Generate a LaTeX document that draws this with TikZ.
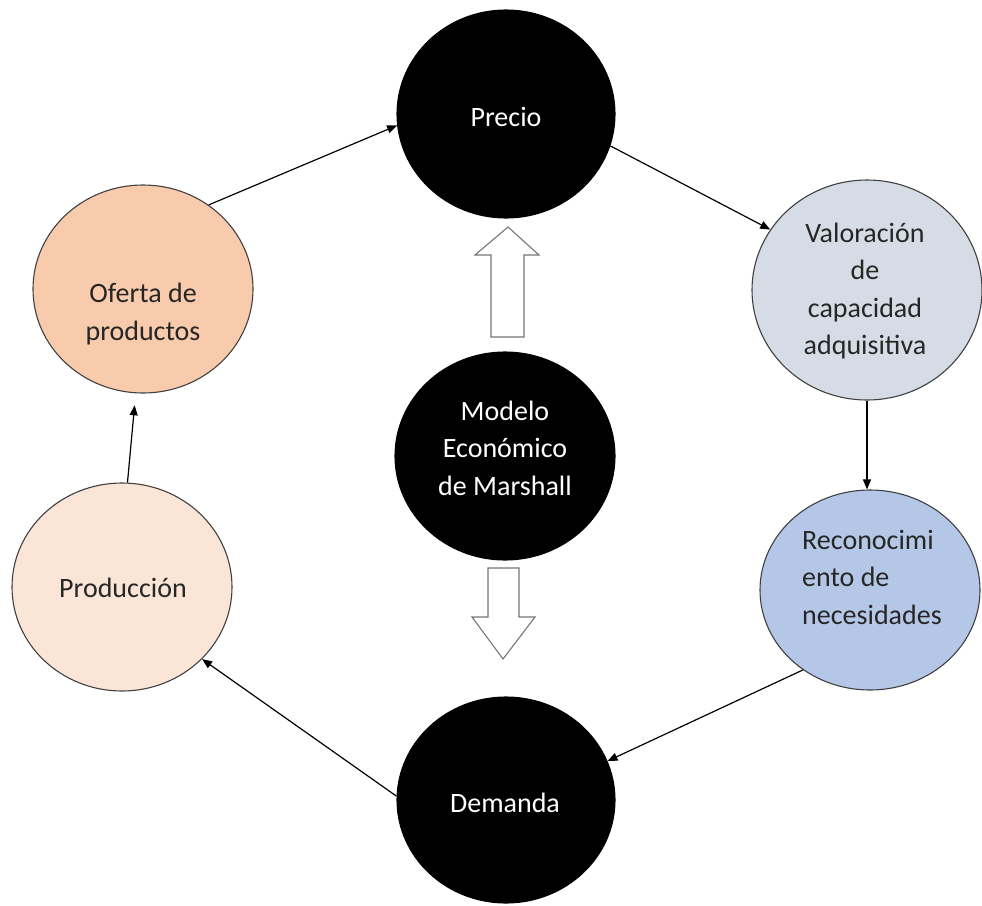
\documentclass[tikz,border=0pt]{standalone}
\usepackage{fontspec}
\setmainfont{Carlito}
\usetikzlibrary{shapes.geometric,arrows.meta}
\definecolor{ofertac}{HTML}{F8CBAD}
\definecolor{prodc}{HTML}{FBE5D6}
\definecolor{valorc}{HTML}{D6DCE5}
\definecolor{reconc}{HTML}{B4C7E7}
\definecolor{outl}{HTML}{404040}
\definecolor{txt}{HTML}{262626}
\definecolor{blockc}{HTML}{767676}
\begin{document}
\begin{tikzpicture}[x=1pt,y=-1pt,
 bubble/.style={ellipse, inner sep=0pt, draw=outl, line width=1.1pt},
 dark/.style={bubble, fill=black, draw=black},
 lbl/.style={font=\fontsize{28}{37.5}\selectfont, align=center, inner sep=0pt, text=txt},
 wlbl/.style={lbl, text=white},
 conn/.style={draw=black, line width=1.2pt, -{Triangle[length=10pt,width=8pt]}},
 block/.style={draw=blockc, line width=1.1pt, fill=white, line join=miter}]
\useasboundingbox (0,0) rectangle (982,905);
% circles
\node[dark, minimum width=218pt, minimum height=208pt] (precio) at (506,114) {};
\node[bubble, fill=ofertac, minimum width=220pt, minimum height=208pt] (oferta) at (143,289) {};
\node[bubble, fill=valorc, minimum width=230pt, minimum height=220pt] (valor) at (867,290) {};
\node[dark, minimum width=220pt, minimum height=208pt] (modelo) at (505,456) {};
\node[bubble, fill=prodc, minimum width=220pt, minimum height=208pt] (prod) at (122,587) {};
\node[bubble, fill=reconc, minimum width=220pt, minimum height=200pt] (recon) at (870,590) {};
\node[dark, minimum width=218pt, minimum height=206pt] (demanda) at (506,800) {};
% texts
\node[wlbl] (precio-t) at (506,117) {Precio};
\node[lbl] (oferta-t) at (143,314) {Oferta de\\productos};
\node[lbl] (valor-t) at (865,291) {Valoración\\de\\capacidad\\adquisitiva};
\node[wlbl] (modelo-t) at (505,448) {Modelo\\Económico\\de Marshall};
\node[lbl, anchor=west, align=left] (recon-t) at (802,577) {Reconocimi\\ento de\\necesidades};
\node[lbl] (prod-t) at (123,588) {Producción};
\node[wlbl] (demanda-t) at (505,803) {Demanda};
% connectors
\draw[conn] (oferta.52.7) -- (precio.186.6);
\draw[conn] (precio.-17.3) -- (valor.148.7);
\draw[conn] (valor.south) -- (valor.south |- recon.north);
\draw[conn] (recon.230.8) -- (demanda.21);
\draw[conn] (demanda.178.5) -- (prod.-42.4);
\draw[conn, shorten >=12pt] (prod.87) -- (oferta.266);
% hollow block arrows
\draw[block] (491,337) -- (491,255) -- (475,255) -- (508,227) -- (539,255) -- (524,255) -- (524,337) -- cycle;
\draw[block] (488,568) -- (519,568) -- (519,617) -- (535,617) -- (503,659) -- (472,617) -- (488,617) -- cycle;
\end{tikzpicture}
\end{document}
